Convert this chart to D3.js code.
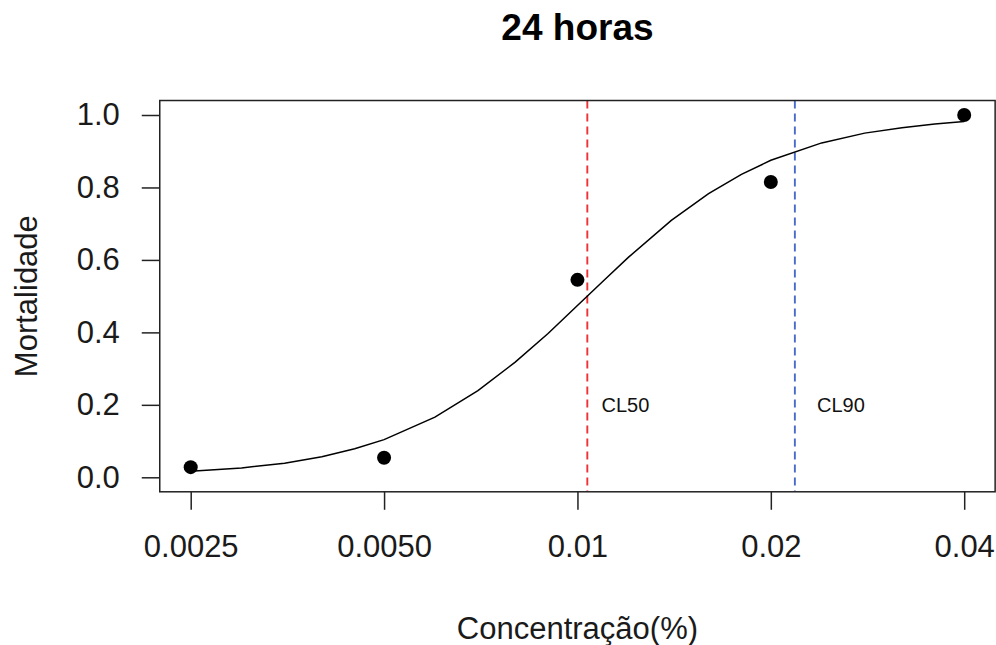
<!DOCTYPE html>
<html>
<head>
<meta charset="utf-8">
<script src="https://cdn.jsdelivr.net/npm/d3@7"></script>
<style>
  html, body { margin: 0; padding: 0; background: #fff; }
  svg { display: block; font-family: "Liberation Sans", Arial, sans-serif; }
</style>
</head>
<body>
<svg id="chart" width="996" height="645"></svg>
<script>
// ---- data ----
const concentrations = [0.0025, 0.005, 0.01, 0.02, 0.04];
const mortality = [0.028, 0.054, 0.545, 0.815, 1.0];

const curveConc = [0.0025, 0.003, 0.0035, 0.004, 0.0045, 0.005, 0.006, 0.007, 0.008, 0.009,
                   0.010, 0.011, 0.012, 0.014, 0.016, 0.018, 0.020, 0.024, 0.028, 0.032, 0.036, 0.040];
const curveMort = [0.017, 0.026, 0.039, 0.057, 0.079, 0.104, 0.166, 0.239, 0.318, 0.397,
                   0.474, 0.544, 0.607, 0.709, 0.783, 0.836, 0.875, 0.923, 0.950, 0.965, 0.975, 0.982];

const refNames = ["CL50", "CL90"];
const refValues = [0.01036, 0.0218];
const refLabelX = [0.0109, 0.0236];
const refLabelY = 0.2;

const xTickValues = [0.0025, 0.005, 0.01, 0.02, 0.04];
const xTickLabels = ["0.0025", "0.0050", "0.01", "0.02", "0.04"];
const yTickValues = [0, 0.2, 0.4, 0.6, 0.8, 1.0];
const yTickLabels = ["0.0", "0.2", "0.4", "0.6", "0.8", "1.0"];

const title = "24 horas";
const xLabel = "Concentração(%)";
const yLabel = "Mortalidade";

// ---- layout ----
const svg = d3.select("#chart");
const x = d3.scaleLog().domain([0.0025, 0.04]).range([190.7, 964.2]);
const y = d3.scaleLinear().domain([0, 1]).range([477.3, 115]);
const xr = x.range(), yr = y.range();
const padX = 0.04 * (xr[1] - xr[0]), padY = 0.04 * (yr[0] - yr[1]);
const box = { left: xr[0] - padX, right: xr[1] + padX, top: yr[1] - padY, bottom: yr[0] + padY };

const refColors = ["#ee3338", "#4a6cc8"];

// reference lines
refValues.forEach((v, i) => {
  svg.append("line")
    .attr("x1", x(v)).attr("x2", x(v))
    .attr("y1", box.top).attr("y2", box.bottom)
    .attr("stroke", refColors[i]).attr("stroke-width", 1.9)
    .attr("stroke-dasharray", "8,5");
  svg.append("text")
    .attr("x", x(refLabelX[i])).attr("y", y(refLabelY))
    .attr("dominant-baseline", "central")
    .attr("font-size", 20).attr("fill", "#111")
    .text(refNames[i]);
});

// fitted curve
const line = d3.line().x(d => x(d[0])).y(d => y(d[1])).curve(d3.curveLinear);
svg.append("path")
  .datum(curveConc.map((c, i) => [c, curveMort[i]]))
  .attr("d", line)
  .attr("fill", "none").attr("stroke", "#000").attr("stroke-width", 1.5);

// points
svg.selectAll("circle.pt")
  .data(concentrations.map((c, i) => [c, mortality[i]]))
  .join("circle")
  .attr("class", "pt")
  .attr("cx", d => x(d[0])).attr("cy", d => y(d[1]))
  .attr("r", 7).attr("fill", "#000");

// box
svg.append("rect")
  .attr("x", box.left).attr("y", box.top)
  .attr("width", box.right - box.left).attr("height", box.bottom - box.top)
  .attr("fill", "none").attr("stroke", "#222").attr("stroke-width", 1.5);

// x axis
const xAxis = d3.axisBottom(x).tickValues(xTickValues)
  .tickFormat((d, i) => xTickLabels[i]).tickSizeOuter(0).tickSize(18).tickPadding(25);
const gx = svg.append("g").attr("transform", `translate(0,${box.bottom})`).call(xAxis);
gx.select(".domain").remove();
gx.selectAll(".tick line").attr("stroke", "#222").attr("stroke-width", 1.5);
gx.selectAll(".tick text").attr("font-size", 31).attr("fill", "#1a1a1a")
  .attr("font-family", "Liberation Sans, Arial, sans-serif");

// y axis
const yAxis = d3.axisLeft(y).tickValues(yTickValues)
  .tickFormat((d, i) => yTickLabels[i]).tickSizeOuter(0).tickSize(18).tickPadding(22);
const gy = svg.append("g").attr("transform", `translate(${box.left},0)`).call(yAxis);
gy.select(".domain").remove();
gy.selectAll(".tick line").attr("stroke", "#222").attr("stroke-width", 1.5);
gy.selectAll(".tick text").attr("font-size", 31).attr("fill", "#1a1a1a")
  .attr("font-family", "Liberation Sans, Arial, sans-serif");

// title and labels
const cx = (box.left + box.right) / 2;
svg.append("text").attr("x", cx).attr("y", 39.5)
  .attr("text-anchor", "middle").attr("font-size", 37).attr("font-weight", "bold")
  .attr("fill", "#000").text(title);
svg.append("text").attr("x", cx).attr("y", 639)
  .attr("text-anchor", "middle").attr("font-size", 31).attr("fill", "#1a1a1a").text(xLabel);
svg.append("text")
  .attr("transform", `translate(37,${(box.top + box.bottom) / 2}) rotate(-90)`)
  .attr("text-anchor", "middle").attr("font-size", 31).attr("fill", "#1a1a1a").text(yLabel);
</script>
</body>
</html>
